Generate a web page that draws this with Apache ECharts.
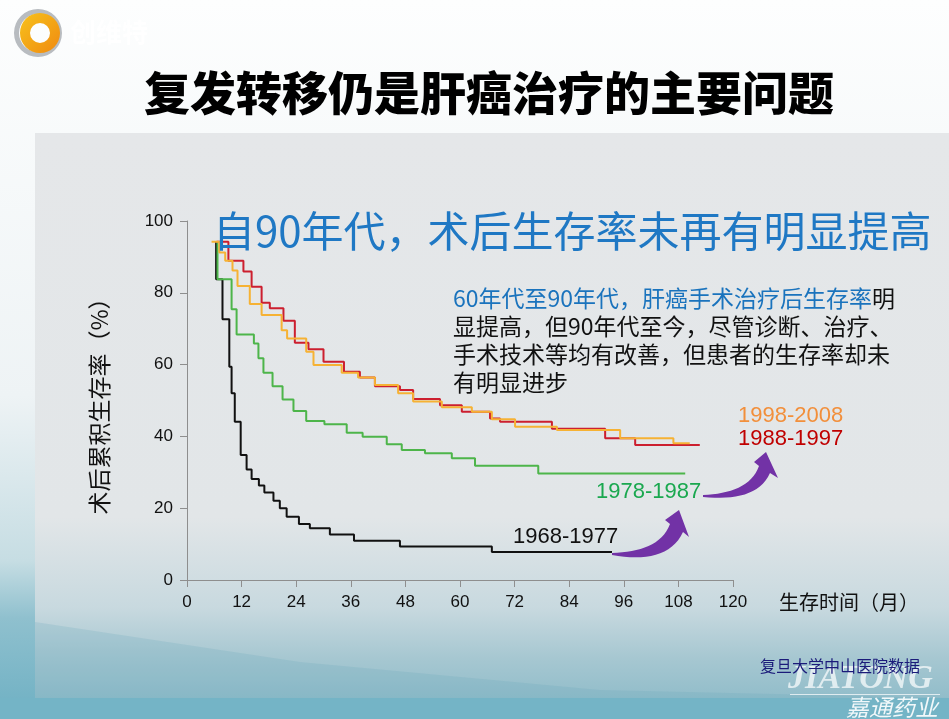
<!DOCTYPE html>
<html>
<head>
<meta charset="utf-8">
<script src="https://cdn.jsdelivr.net/npm/echarts@6/dist/echarts.min.js"></script>
<style>
  html, body { margin: 0; padding: 0; }
  #chart { width: 949px; height: 719px; }
</style>
</head>
<body>
<div id="chart"></div>
<script>
  "use strict";
  // survival curves: month of each drop, survival (%) after it
  var black_m = [6.4, 6.4, 7.8, 9.3, 9.8, 10.5, 11.8, 13.1, 14.2, 15.8, 17.0, 19.0, 20.4, 21.9, 24.6, 27.0, 31.4, 36.7, 46.8, 67.0, 93.4];
  var black_s = [94.2, 83.8, 72.6, 59.4, 52.0, 44.1, 34.8, 30.8, 28.1, 26.3, 24.4, 22.1, 20.0, 17.6, 15.6, 14.4, 12.7, 10.9, 9.3, 7.8, 7.8];
  var green_m = [6.7, 6.7, 9.8, 10.9, 14.7, 15.7, 16.8, 18.8, 21.0, 23.4, 26.2, 30.2, 35.1, 38.6, 43.9, 47.2, 52.3, 58.2, 63.3, 77.2, 109.5];
  var green_s = [94.2, 83.8, 75.4, 68.4, 65.9, 61.8, 57.7, 54.0, 50.3, 47.1, 44.3, 43.4, 41.0, 39.9, 37.8, 36.2, 35.3, 33.9, 31.8, 29.7, 29.7];
  var red_m = [6.5, 9.1, 12.4, 14.2, 16.4, 18.2, 21.2, 23.7, 26.7, 30.0, 34.5, 38.0, 41.3, 46.8, 49.7, 55.6, 60.4, 66.6, 68.8, 80.2, 91.9, 98.5, 112.7];
  var red_s = [94.2, 88.9, 85.9, 81.7, 77.2, 75.7, 72.2, 66.1, 64.3, 60.8, 58.0, 56.4, 54.0, 52.9, 50.4, 48.7, 46.9, 45.0, 44.1, 42.1, 39.5, 37.6, 37.6];
  var orange_m = [5.4, 7.1, 8.4, 10.0, 11.1, 13.8, 16.4, 20.8, 22.0, 26.2, 27.8, 34.0, 37.6, 41.3, 46.4, 49.7, 56.0, 62.6, 67.0, 72.1, 81.3, 95.2, 106.9, 110.5];
  var orange_s = [94.2, 91.2, 88.9, 86.2, 81.9, 76.9, 73.8, 69.6, 67.3, 63.6, 59.9, 57.7, 56.4, 54.3, 52.0, 49.7, 48.1, 46.9, 44.8, 42.7, 41.8, 39.5, 38.1, 38.1];

  var periods = ['1968-1977', '1978-1987', '1988-1997', '1998-2008'];
  var periodColors = ['#111111', '#4db54a', '#cc1f2f', '#f6b234'];
  var labelColors = ['#111111', '#1aa84f', '#c00000', '#f28f3b'];
  var xTicks = [0, 12, 24, 36, 48, 60, 72, 84, 96, 108, 120];
  var yTicks = [0, 20, 40, 60, 80, 100];

  function zip(m, s) {
    return m.map(function (v, i) { return [v, s[i]]; });
  }
  var curves = [zip(black_m, black_s), zip(green_m, green_s), zip(red_m, red_s), zip(orange_m, orange_s)];

  var cjk = '"Noto Sans CJK SC", "Noto Sans", sans-serif';
  var latin = '"Liberation Sans", Arial, sans-serif';

  // sample a cubic bezier into points (for the curved arrows)
  function bez(p0, p1, p2, p3) {
    var pts = [];
    for (var i = 0; i <= 16; i++) {
      var t = i / 16, u = 1 - t;
      pts.push([
        u * u * u * p0[0] + 3 * u * u * t * p1[0] + 3 * u * t * t * p2[0] + t * t * t * p3[0],
        u * u * u * p0[1] + 3 * u * u * t * p1[1] + 3 * u * t * t * p2[1] + t * t * t * p3[1]
      ]);
    }
    return pts;
  }
  function arrow(top, bottom, head) {
    var pts = bez(top[0], top[1], top[2], top[3]);
    pts = pts.concat(head);
    pts = pts.concat(bez(bottom[0], bottom[1], bottom[2], bottom[3]).reverse());
    return {
      type: 'polygon', z: 40, silent: true,
      shape: {points: pts},
      style: {fill: '#7232a6'}
    };
  }

  var bg = [
    {
      type: 'rect', z: -20, silent: true,
      shape: {x: 0, y: 0, width: 949, height: 719},
      style: {fill: new echarts.graphic.LinearGradient(0, 0, 0, 1, [
        {offset: 0, color: '#fdfefe'},
        {offset: 0.55, color: '#eef3f5'},
        {offset: 0.78, color: '#c6dde3'},
        {offset: 0.86, color: '#8fc0ce'},
        {offset: 1, color: '#6eb0c3'}
      ])}
    },
    {
      type: 'rect', z: -19, silent: true,
      shape: {x: 35, y: 133, width: 914, height: 565},
      style: {fill: new echarts.graphic.LinearGradient(0, 0, 0, 1, [
        {offset: 0, color: '#e5e7e9'},
        {offset: 0.68, color: '#e2e6e8'},
        {offset: 0.84, color: '#c8d9df'},
        {offset: 0.93, color: '#a6c7d1'},
        {offset: 1, color: '#92bdca'}
      ])}
    },
    {
      type: 'polygon', z: -18, silent: true,
      shape: {points: [[35, 622], [300, 662], [600, 690], [949, 698], [35, 698]]},
      style: {fill: 'rgba(100,165,185,0.2)'}
    },
    {
      type: 'rect', z: -18, silent: true,
      shape: {x: 0, y: 698, width: 949, height: 21},
      style: {fill: '#74b4c6'}
    }
  ];

  var logo = [
    {
      type: 'ring', z: 5, silent: true,
      shape: {cx: 38, cy: 33, r: 24, r0: 19},
      style: {fill: '#b8bcc0'}
    },
    {
      type: 'ring', z: 6, silent: true,
      shape: {cx: 40, cy: 33, r: 20, r0: 10},
      style: {fill: new echarts.graphic.LinearGradient(0, 0, 1, 1, [
        {offset: 0, color: '#f7c21c'},
        {offset: 1, color: '#f08a10'}
      ])}
    },
    {
      type: 'text', z: 6, silent: true, x: 70, y: 32,
      style: {text: '创维特', font: 'bold 26px ' + cjk, fill: 'rgba(255,255,255,0.85)', verticalAlign: 'middle'}
    }
  ];

  var texts = [
    {
      type: 'text', z: 50, x: 489, y: 93,
      style: {text: '复发转移仍是肝癌治疗的主要问题', font: '900 46px ' + cjk, fill: '#000', align: 'center', verticalAlign: 'middle'}
    },
    {
      type: 'text', z: 50, x: 213, y: 231,
      style: {text: '自90年代，术后生存率未再有明显提高', font: '42px ' + cjk, fill: '#1f78c4', verticalAlign: 'middle'}
    },
    {
      type: 'text', z: 50, x: 453, y: 284,
      style: {
        text: '{b|60年代至90年代，肝癌手术治疗后生存率}{k|明}\n{k|显提高，但90年代至今，尽管诊断、治疗、}\n{k|手术技术等均有改善，但患者的生存率却未}\n{k|有明显进步}',
        font: '23px ' + cjk,
        rich: {
          b: {fill: '#1a73bd', font: '23px ' + cjk, lineHeight: 28},
          k: {fill: '#111', font: '23px ' + cjk, lineHeight: 28}
        }
      }
    },
    {
      type: 'text', z: 50, x: 738, y: 416,
      style: {text: periods[3], font: '22px ' + latin, fill: labelColors[3], verticalAlign: 'middle'}
    },
    {
      type: 'text', z: 50, x: 738, y: 439,
      style: {text: periods[2], font: '22px ' + latin, fill: labelColors[2], verticalAlign: 'middle'}
    },
    {
      type: 'text', z: 50, x: 596, y: 492,
      style: {text: periods[1], font: '22px ' + latin, fill: labelColors[1], verticalAlign: 'middle'}
    },
    {
      type: 'text', z: 50, x: 513, y: 537,
      style: {text: periods[0], font: '22px ' + latin, fill: labelColors[0], verticalAlign: 'middle'}
    },
    arrow(
      [[612, 553], [640, 552], [662, 545], [670, 524]],
      [[612, 555], [645, 561], [672, 556], [683, 532]],
      [[665, 520], [679, 510], [689, 537]]
    ),
    arrow(
      [[703, 495], [730, 494], [752, 486], [759, 466]],
      [[703, 497], [735, 500], [760, 495], [770, 473]],
      [[754, 462], [766, 452], [778, 478]]
    ),
    {
      type: 'text', z: 50, x: 788, y: 679,
      style: {text: 'JIATONG', font: 'italic bold 34px "Liberation Serif", serif', fill: 'rgba(255,255,255,0.7)', verticalAlign: 'middle'}
    },
    {
      type: 'rect', z: 50, silent: true,
      shape: {x: 790, y: 694, width: 150, height: 1},
      style: {fill: 'rgba(255,255,255,0.7)'}
    },
    {
      type: 'text', z: 50, x: 938, y: 707,
      style: {text: '嘉通药业', font: 'italic 23px ' + cjk, fill: 'rgba(255,255,255,0.9)', align: 'right', verticalAlign: 'middle'}
    },
    {
      type: 'text', z: 60, x: 760, y: 666,
      style: {text: '复旦大学中山医院数据', font: '16px ' + cjk, fill: '#1b1b7a', verticalAlign: 'middle'}
    }
  ];

  var option = {
    animation: false,
    grid: {left: 187, right: 216, top: 221, bottom: 139},
    xAxis: {
      type: 'value',
      min: xTicks[0],
      max: xTicks[xTicks.length - 1],
      interval: 12,
      name: '生存时间（月）',
      nameLocation: 'end',
      nameGap: 46,
      nameTextStyle: {fontFamily: cjk, fontSize: 20, color: '#111', verticalAlign: 'top', padding: [12, 0, 0, 0]},
      axisLine: {lineStyle: {color: '#8e8e8e', width: 1}},
      axisTick: {show: true, length: 7, lineStyle: {color: '#8e8e8e'}},
      axisLabel: {fontFamily: latin, fontSize: 17, color: '#111', margin: 14},
      splitLine: {show: false}
    },
    yAxis: {
      type: 'value',
      min: yTicks[0],
      max: yTicks[yTicks.length - 1],
      interval: 20,
      name: '术后累积生存率（%）',
      nameLocation: 'middle',
      nameRotate: 90,
      nameGap: 76,
      nameTextStyle: {fontFamily: cjk, fontSize: 23, color: '#111'},
      axisLine: {show: true, lineStyle: {color: '#8e8e8e', width: 1}},
      axisTick: {show: true, length: 7, lineStyle: {color: '#8e8e8e'}},
      axisLabel: {fontFamily: latin, fontSize: 17, color: '#111', margin: 14},
      splitLine: {show: false}
    },
    series: curves.map(function (d, i) {
      return {
        name: periods[i],
        type: 'line',
        step: 'end',
        symbol: 'none',
        data: d,
        lineStyle: {color: periodColors[i], width: 2},
        z: 3 + i
      };
    }),
    graphic: bg.concat(logo, texts)
  };

  var chart = echarts.init(document.getElementById('chart'));
  chart.setOption(option);
</script>
</body>
</html>
